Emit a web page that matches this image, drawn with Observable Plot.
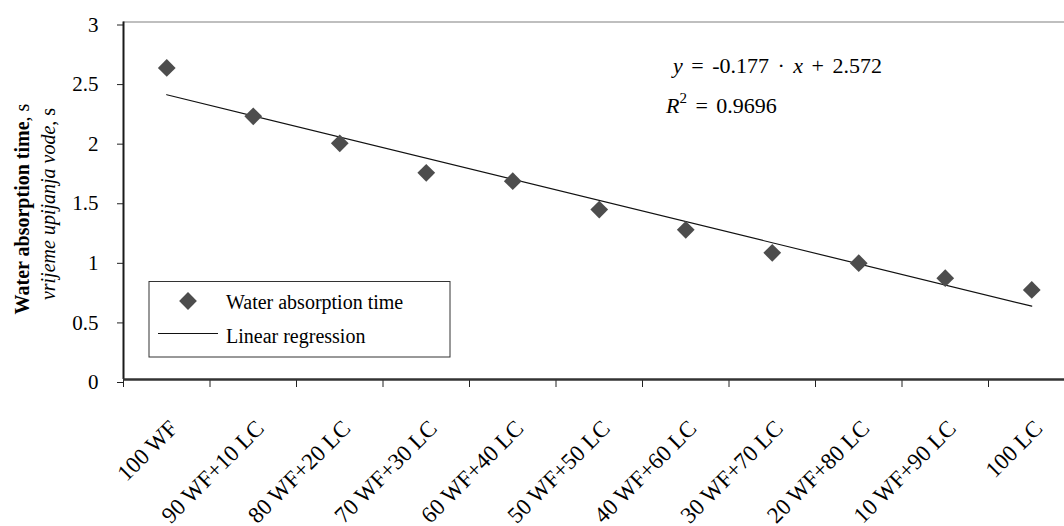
<!DOCTYPE html>
<html><head><meta charset="utf-8">
<script src="https://cdn.jsdelivr.net/npm/d3@7"></script>
<script src="https://cdn.jsdelivr.net/npm/@observablehq/plot@0.6"></script>
<style>html,body{margin:0;padding:0;background:#fff;overflow:hidden}
svg text{font-family:'Liberation Serif','Times New Roman',serif}</style>
</head><body><div id="chart"></div>
<script>
const categories = ["100 WF","90 WF+10 LC","80 WF+20 LC","70 WF+30 LC","60 WF+40 LC","50 WF+50 LC","40 WF+60 LC","30 WF+70 LC","20 WF+80 LC","10 WF+90 LC","100 LC"];
const absorptionTime = [2.615, 2.209, 1.982, 1.734, 1.664, 1.426, 1.256, 1.063, 0.976, 0.850, 0.752];
const yTicks = [0, 0.5, 1, 1.5, 2, 2.5, 3];
const yTickLabels = ["0", "0.5", "1", "1.5", "2", "2.5", "3"];
const seriesNames = ["Water absorption time", "Linear regression"];
const slopeText = "-0.177";
const interceptText = "2.572";
const r2Text = "0.9696";

const rows = categories.map((c, i) => ({category: c, index: i + 1, time: absorptionTime[i]}));
const bounds = d3.range(categories.length + 1).map(i => i + 0.5);
const FONT = "'Liberation Serif', 'Times New Roman', serif";

const plot = Plot.plot({
  width: 1064, height: 526,
  marginLeft: 123, marginRight: 0, marginTop: 21.5, marginBottom: 147,
  style: {fontFamily: FONT, background: "white", color: "#000", overflow: "visible"},
  x: {domain: [0.5, categories.length + 0.5], range: [123, 1074.5], axis: null},
  y: {domain: [0, 3], range: [379, 21.5], axis: null},
  marks: [
    Plot.ruleY([3], {stroke: "#808080", strokeWidth: 1.2}),
    Plot.axisY({ticks: yTicks, tickFormat: d => yTickLabels[yTicks.indexOf(d)], tickSize: 6, tickPadding: 19, fontSize: 21, dy: 3, label: null, stroke: "#222", fontFamily: FONT}),
    Plot.ruleX([0.5], {stroke: "#1a1a1a", strokeWidth: 2}),
    Plot.axisX({ticks: bounds, tickFormat: () => "", tickSize: 8, label: null, stroke: "#222"}),
    Plot.ruleY([0], {stroke: "#333", strokeWidth: 2.5}),
    Plot.text(rows, {x: "index", text: "category", frameAnchor: "bottom", rotate: -45, textAnchor: "end", lineAnchor: "middle", dx: 7, dy: 45, fontSize: 23, fill: "#000", fontFamily: FONT}),
    Plot.linearRegressionY(rows, {x: "index", y: "time", stroke: "#111", strokeWidth: 1.2, ci: 0}),
    Plot.dot(rows, {x: "index", y: "time", symbol: "diamond2", r: 8, fill: "#4d4d4d", stroke: "none"})
  ]
});
document.getElementById("chart").appendChild(plot);

const svg = d3.select(plot);
function addText(x, y, size, anchor) {
  return svg.append("text").attr("x", x).attr("y", y).attr("font-size", size)
    .attr("font-family", FONT).attr("fill", "#000").attr("text-anchor", anchor);
}
// y-axis title (two lines, mixed styles)
const t1 = svg.append("text").attr("transform", "translate(29,209) rotate(-90)")
  .attr("text-anchor", "middle").attr("font-size", 20).attr("font-family", FONT).attr("fill", "#000");
t1.append("tspan").attr("font-weight", "bold").text("Water absorption time");
t1.append("tspan").text(", s");
const t2 = svg.append("text").attr("transform", "translate(55,204) rotate(-90)")
  .attr("text-anchor", "middle").attr("font-size", 20).attr("font-family", FONT).attr("fill", "#000");
t2.append("tspan").attr("font-style", "italic").text("vrijeme upijanja vode");
t2.append("tspan").text(", s");

// regression equation
const eq = addText(673, 72.5, 22, "start").attr("word-spacing", 3);
eq.append("tspan").attr("font-style", "italic").text("y");
eq.append("tspan").text(" = " + slopeText + " · ");
eq.append("tspan").attr("font-style", "italic").text("x");
eq.append("tspan").text(" + " + interceptText);
const r2 = addText(666, 113, 22, "start").attr("word-spacing", 3);
r2.append("tspan").attr("font-style", "italic").text("R");
r2.append("tspan").attr("font-size", 15).attr("dy", -10).text("2");
r2.append("tspan").attr("dy", 10).text(" = " + r2Text);

// legend
const lg = svg.append("g");
lg.append("rect").attr("x", 149).attr("y", 281.5).attr("width", 301).attr("height", 75.5)
  .attr("fill", "white").attr("stroke", "#333").attr("stroke-width", 1);
lg.append("path").attr("d", d3.symbol(d3.symbolDiamond2, Math.PI * 64)())
  .attr("transform", "translate(188,301)").attr("fill", "#4d4d4d");
lg.append("line").attr("x1", 158).attr("x2", 218).attr("y1", 333.5).attr("y2", 333.5)
  .attr("stroke", "#111").attr("stroke-width", 1.2);
addText(226, 309, 20, "start").text(seriesNames[0]);
addText(226, 343, 20, "start").text(seriesNames[1]);
</script>
</body></html>
